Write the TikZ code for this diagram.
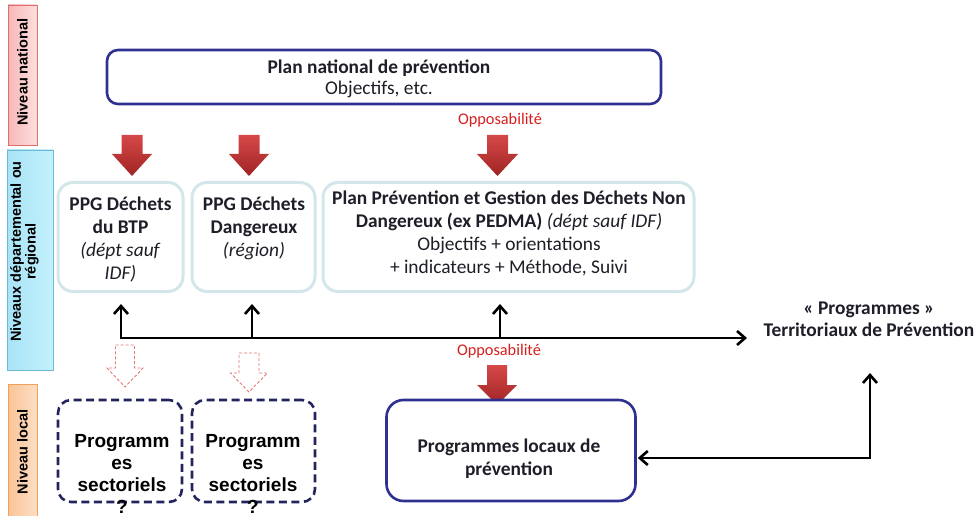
\documentclass[tikz,border=0pt]{standalone}
\usepackage{fontspec}
\setmainfont{Carlito}
\newfontfamily\arialfont{Liberation Sans}
\usetikzlibrary{arrows.meta}

\definecolor{planblue}{HTML}{2E3190}
\definecolor{dashblue}{HTML}{23235E}
\definecolor{regedge}{HTML}{D3E7EB}
\definecolor{oppred}{HTML}{D81E1E}
\definecolor{txtdark}{HTML}{1E1E28}

% block arrow: [style]{centre x}{top}{head base}{tip}{half shaft}{half head}
\newcommand\blkarrow[7][]{%
  \path[#1] ({#2-#6},#3) -- ({#2+#6},#3) -- ({#2+#6},#4) -- ({#2+#7},#4)
    -- (#2,#5) -- ({#2-#7},#4) -- ({#2-#6},#4) -- cycle;}

\begin{document}
\begin{tikzpicture}[x=1pt,y=-1pt,
  levelbox/.style={line width=0.9pt, inner sep=0pt},
  leveltext/.style={rotate=90, align=center, inner sep=0pt,
    font=\arialfont\bfseries\fontsize{14.5}{12.5}\selectfont},
  planbox/.style={draw=planblue, line width=2.6pt, rounded corners=11pt, fill=white, inner sep=0pt},
  regbox/.style={draw=regedge, line width=3pt, rounded corners=15pt, fill=white,
    minimum height=109pt, inner sep=0pt},
  sectbox/.style={draw=dashblue, line width=2.6pt, dash pattern=on 8pt off 4.5pt,
    rounded corners=13pt, minimum width=124pt, minimum height=102pt, inner sep=0pt},
  bodytext/.style={align=center, inner sep=0pt, text=txtdark,
    font=\fontsize{19.4}{23}\selectfont},
  secttext/.style={align=center, inner sep=0pt,
    font=\arialfont\bfseries\fontsize{19}{22}\selectfont},
  opp/.style={text=oppred, inner sep=0pt, font=\fontsize{16.3}{18}\selectfont},
  redarrow/.style={top color={rgb,255:red,214;green,72;blue,72},
    bottom color={rgb,255:red,160;green,36;blue,36}},
  ghostarrow/.style={draw={rgb,255:red,228;green,120;blue,120}, fill=white,
    line width=0.9pt, dash pattern=on 3pt off 2pt},
  barb/.tip={Straight Barb[length=8pt,width=14pt]},
  conn/.style={draw=black, line width=2.6pt, line join=miter, -barb},
]
\useasboundingbox (0,0) rectangle (978,516);

% ---- level bands ----
\node[levelbox, draw={rgb,255:red,222;green,110;blue,110},
  left color={rgb,255:red,246;green,184;blue,184}, right color={rgb,255:red,255;green,222;blue,222},
  minimum width=29pt, minimum height=140pt] (lvlnat) at (22.5,75) {};
\node[leveltext] (lvlnattxt) at (22.5,72) {Niveau national};

\node[levelbox, draw={rgb,255:red,110;green,186;blue,214},
  left color={rgb,255:red,168;green,228;blue,246}, right color={rgb,255:red,196;green,240;blue,252},
  minimum width=46pt, minimum height=220pt] (lvlreg) at (30,260) {};
\node[leveltext] (lvlregtxt) at (24.5,251.5) {Niveaux départemental ou\\régional};

\node[levelbox, draw={rgb,255:red,244;green,160;blue,90},
  left color={rgb,255:red,250;green,196;blue,152}, right color={rgb,255:red,253;green,222;blue,196},
  minimum width=29pt, minimum height=132pt] (lvlloc) at (22.5,450) {};
\node[leveltext] (lvlloctxt) at (22.5,452) {Niveau local};

% ---- national plan ----
\node[planbox, minimum width=554pt, minimum height=54pt] (natplan) at (384,77) {};
\node[bodytext, font=\fontsize{19.4}{21}\selectfont] (natplantxt) at (379,78.5)
  {\textbf{Plan national de prévention}\\Objectifs, etc.};

\node[opp] (opp1) at (500,120) {Opposabilité};

% ---- regional plans ----
\node[regbox, minimum width=125pt] (ppgA) at (120.5,237) {};
\node[bodytext] (ppgAtxt) at (120.5,239.5)
  {\textbf{PPG Déchets}\\\textbf{du BTP}\\\textit{(dépt sauf}\\\textit{IDF)}};

\node[regbox, minimum width=123pt] (ppgB) at (253.5,237) {};
\node[bodytext] (ppgBtxt) at (254,228.5)
  {\textbf{PPG Déchets}\\\textbf{Dangereux}\\\textit{(région)}};

\node[regbox, minimum width=371pt] (ppgC) at (508.5,237) {};
\node[bodytext] (ppgCtxt) at (509,233)
  {\textbf{Plan Prévention et Gestion des Déchets Non}\\
   \textbf{Dangereux (ex PEDMA)} \textit{(dépt sauf IDF)}\\
   Objectifs + orientations\\+ indicateurs + Méthode, Suivi};

% ---- red block arrows ----
\blkarrow[redarrow]{132}{135}{154}{176}{10.5}{20}
\blkarrow[redarrow]{249}{135}{154}{176}{10.5}{20}
\blkarrow[redarrow]{497.5}{135}{154}{176}{10.5}{20.5}
\blkarrow[redarrow]{497}{365}{385}{405}{10}{20}

% ---- territorial programmes ----
\node[bodytext, font=\bfseries\fontsize{19.4}{22}\selectfont] (terr) at (869,319)
  {«~Programmes~»\\Territoriaux de Prévention};

\coordinate (busL) at (121,338);
\coordinate (busM) at (252,338);
\coordinate (busR) at (500,338);
\coordinate (busEnd) at (747,338);
\coordinate (tipL) at (121,304);
\coordinate (tipM) at (252,304);
\coordinate (tipR) at (500,304);

\draw[conn, barb-barb] (tipL) -- (busL) -- (busEnd);
\draw[conn] (busM) -- (tipM);
\draw[conn] (busR) -- (tipR);

\node[opp] (opp2) at (499,351) {Opposabilité};

% ---- local level ----
\node[planbox, rounded corners=17pt, minimum width=249pt, minimum height=101pt] (local) at (511,450.5) {};
\node[bodytext, font=\bfseries\fontsize{19.4}{23}\selectfont] (localtxt) at (509,458.5)
  {Programmes locaux de\\prévention};

\node[sectbox] (sectA) at (120,451) {};
\node[secttext] (sectAtxt) at (122,473.5) {Programm\\es\\sectoriels\\?};
\node[sectbox, minimum width=123pt] (sectB) at (253.5,451) {};
\node[secttext] (sectBtxt) at (253,473.5) {Programm\\es\\sectoriels\\?};

% ---- hollow dashed arrows ----
\blkarrow[ghostarrow]{125}{345}{368}{387}{9.5}{18}
\blkarrow[ghostarrow]{249}{353}{373}{392}{10}{18.5}

% ---- feedback link ----
\coordinate (corner) at (870,458);
\coordinate (terrTip) at (870,373);
\coordinate (localIn) at ([xshift=1pt]corner -| local.east);
\draw[conn, barb-barb] (localIn) -- (corner) -- (terrTip);
\end{tikzpicture}
\end{document}
